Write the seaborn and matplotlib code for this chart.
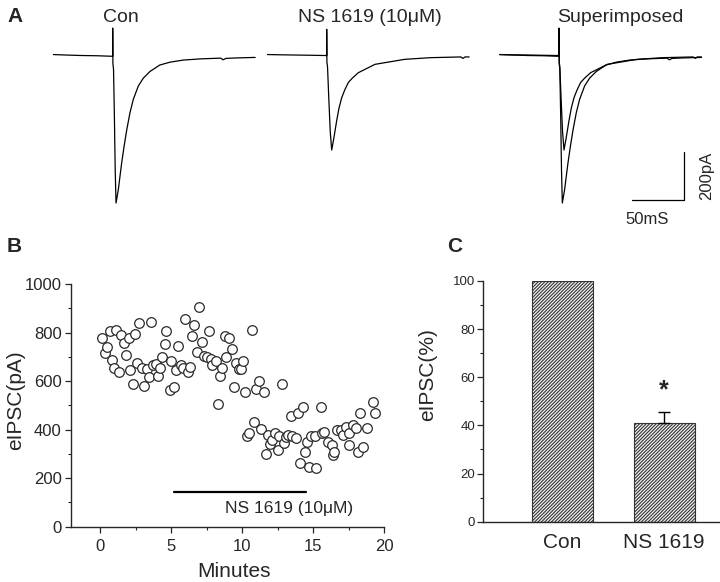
import numpy as np
import pandas as pd
import matplotlib
matplotlib.use("Agg")
import matplotlib.pyplot as plt
from matplotlib.ticker import MultipleLocator
import seaborn as sns

# ---------------- data ----------------
# Panel A: eIPSC traces (time ms relative to stimulus, current pA)
con_t = [-57, -45, -30, -15, -2, 0, 0, 0.2, 0.8, 1.6, 2.4, 3.2, 5.4, 7.0, 8.6, 10.9,
         13.4, 16.6, 19.8, 24.6, 29.4, 35.8, 45.2, 55, 68, 85, 104, 106, 109, 120, 137]
con_i = [2, 0, -2, -3, -5, -5, 113, -35, -60, -250, -480, -620, -564, -508, -453, -384,
         -316, -242, -186, -130, -97, -69, -42, -30, -21, -16, -13, -20, -14, -12, -10]
ns_t = [-57, -45, -30, -15, -2, 0, 0, 0.2, 0.8, 2.0, 3.4, 4.8, 6.8, 9.6, 11.8, 14.4,
        17.3, 20.8, 24.8, 30.4, 46.4, 75, 100, 129, 131, 133, 137]
ns_i = [2, 1, 0, -1, -2, -2, 108, -30, -50, -180, -320, -398, -350, -275, -223, -179,
        -147, -115, -96, -74, -39, -18, -11, -8, -14, -8, -8]
scale_ms = 50
scale_pA = 200

# Panel B: eIPSC amplitude over time
minutes = [0.12, 0.30, 0.47, 0.65, 0.81, 0.93, 1.12, 1.28, 1.47, 1.63, 1.79, 1.98, 2.09, 2.28,
           2.44, 2.60, 2.74, 2.90, 3.07, 3.26, 3.44, 3.54, 3.72, 3.90, 4.07, 4.19, 4.37, 4.54,
           4.65, 4.88, 5.00, 5.19, 5.35, 5.45, 5.70, 5.81, 5.98, 6.16, 6.33, 6.47, 6.63, 6.79,
           6.98, 7.14, 7.28, 7.51, 7.63, 7.79, 7.90, 8.14, 8.26, 8.42, 8.60, 8.79, 8.88, 9.07,
           9.26, 9.42, 9.54, 9.77, 9.88, 10.05, 10.19, 10.35, 10.50, 10.70, 10.86, 10.98, 11.16,
           11.35, 11.51, 11.70, 11.81, 11.98, 12.09, 12.28, 12.51, 12.60, 12.79, 12.98, 13.10,
           13.20, 13.44, 13.50, 13.77, 13.90, 14.07, 14.30, 14.42, 14.55, 14.70, 14.85, 15.15,
           15.23, 15.54, 15.60, 15.80, 16.05, 16.30, 16.40, 16.50, 16.70, 17.00, 17.10, 17.33,
           17.50, 17.56, 17.80, 18.03, 18.14, 18.33, 18.50, 18.80, 19.20, 19.40]
eipsc = [779, 717, 739, 806, 687, 652, 810, 637, 790, 755, 707, 776, 645, 589,
         794, 673, 838, 655, 578, 651, 616, 842, 666, 670, 621, 655, 699, 751,
         807, 563, 684, 577, 646, 744, 666, 652, 855, 639, 659, 784, 830, 721,
         906, 759, 702, 698, 808, 689, 667, 684, 507, 622, 652, 784, 700, 777,
         731, 575, 673, 648, 650, 684, 553, 374, 385, 812, 433, 568, 601,
         404, 553, 298, 378, 339, 357, 387, 318, 375, 588, 345, 370,
         378, 455, 374, 364, 470, 262, 492, 306, 350, 245, 372, 372,
         242, 492, 385, 391, 350, 337, 295, 309, 398, 398, 378, 412,
         337, 385, 419, 405, 309, 470, 330, 405, 515, 470]
drug_on, drug_off, drug_bar_y = 5.2, 14.5, 144

# Panel C: normalized eIPSC
conditions = ["Con", "NS 1619"]
means = [100, 41.2]
sems = [0, 4.2]

# ---------------- style ----------------
sns.set_style("ticks")
plt.rcParams["font.family"] = ["Liberation Sans", "DejaVu Sans"]
plt.rcParams["hatch.linewidth"] = 0.8

W, H = 720, 582
fig = plt.figure(figsize=(W / 100, H / 100), dpi=100)


def fx(px):
    return px / W


def fy(py):
    return 1 - py / H


# ---------------- Panel A ----------------
a_w, a_h = 223.6 / W, 186.2 / H
a_bottom = fy(210.2)
axes_A = []
for left_px in (45.1, 259.1, 491.4):
    ax = fig.add_axes([fx(left_px), a_bottom, a_w, a_h])
    ax.set_xlim(-65, 150)
    ax.set_ylim(-650, 130)
    ax.axis("off")
    axes_A.append(ax)

tr_con = pd.DataFrame({"t": con_t, "i": con_i})
tr_ns = pd.DataFrame({"t": ns_t, "i": ns_i})
line_kw = dict(x="t", y="i", sort=False, estimator=None, color="black", linewidth=0.9)
sns.lineplot(data=tr_con, ax=axes_A[0], **line_kw)
sns.lineplot(data=tr_ns, ax=axes_A[1], **line_kw)
sns.lineplot(data=tr_con, ax=axes_A[2], **line_kw)
sns.lineplot(data=tr_ns, ax=axes_A[2], **line_kw)

ax3 = axes_A[2]
sb_x1 = 120.5
sb_y0 = -607.6
ax3.plot([sb_x1 - scale_ms, sb_x1, sb_x1], [sb_y0, sb_y0, sb_y0 + scale_pA],
         color="black", linewidth=0.9, clip_on=False)
ax3.text(sb_x1 + 21, sb_y0 + scale_pA / 2, f"{scale_pA}pA", rotation=90,
         ha="center", va="center", fontsize=12)
ax3.text(sb_x1 - 36, sb_y0 - 83, f"{scale_ms}mS", ha="center", va="center", fontsize=12)

fig.text(fx(121), fy(18), "Con", ha="center", va="center", fontsize=14)
fig.text(fx(370), fy(18), "NS 1619 (10\u03bcM)", ha="center", va="center", fontsize=14)
fig.text(fx(620), fy(18), "Superimposed", ha="center", va="center", fontsize=14)

fig.text(fx(7), fy(17), "A", ha="left", va="center", fontsize=15, fontweight="bold")
fig.text(fx(7), fy(246), "B", ha="left", va="center", fontsize=15, fontweight="bold")
fig.text(fx(447), fy(246), "C", ha="left", va="center", fontsize=15, fontweight="bold")

# ---------------- Panel B ----------------
axB = fig.add_axes([fx(70.7), fy(526.7), (384 - 70.7) / W, (526.7 - 284) / H])
dfB = pd.DataFrame({"Minutes": minutes, "eIPSC": eipsc})
sns.scatterplot(data=dfB, x="Minutes", y="eIPSC", ax=axB, s=48, color="white",
                edgecolor="#2a2a2a", linewidth=0.9, zorder=3)
axB.plot([drug_on, drug_off], [drug_bar_y, drug_bar_y], color="black", linewidth=1.6)
axB.text(13.27, 76, "NS 1619 (10\u03bcM)", ha="center", va="center", fontsize=12.5)
axB.set_xlim(-2.1, 20)
axB.set_ylim(0, 1000)
axB.xaxis.set_major_locator(MultipleLocator(5))
axB.xaxis.set_minor_locator(MultipleLocator(2.5))
axB.yaxis.set_major_locator(MultipleLocator(200))
axB.yaxis.set_minor_locator(MultipleLocator(100))
axB.set_xlabel("Minutes", fontsize=15)
axB.set_ylabel("eIPSC(pA)", fontsize=15)
axB.xaxis.label.set_verticalalignment("baseline")
axB.xaxis.set_label_coords(0.52, (526.7 - 577) / (526.7 - 284))
axB.yaxis.set_label_coords((25.5 - 70.7) / (384 - 70.7), 0.522)
axB.tick_params(axis="both", which="major", labelsize=12, length=4, width=0.9, pad=2.5,
                direction="out")
axB.tick_params(axis="both", which="minor", length=2.5, width=0.8, direction="out")
axB.tick_params(axis="x", which="major", pad=5)
for s in ("left", "bottom"):
    axB.spines[s].set_linewidth(1.0)
sns.despine(ax=axB)

# ---------------- Panel C ----------------
axC = fig.add_axes([fx(483.3), fy(521.7), (720 - 483.3) / W, (521.7 - 281) / H])
dfC = pd.DataFrame({"cond": conditions, "val": means})
sns.barplot(data=dfC, x="cond", y="val", ax=axC, color="white", edgecolor="black",
            linewidth=0.8, width=0.6, errorbar=None, saturation=1)
for p in axC.patches:
    p.set_hatch("//////////")
    p.set_facecolor("#f2f2f2")
    p.set_edgecolor("#333333")
ns_idx = conditions.index("NS 1619")
axC.errorbar([ns_idx], [means[ns_idx]], yerr=[[0], [sems[ns_idx]]], fmt="none",
             ecolor="black", elinewidth=1.0, capsize=4, capthick=1.0)
axC.text(ns_idx, 54.5, "*", ha="center", va="center", fontsize=18, fontweight="bold")
axC.set_xlim(-0.782, 1.55)
axC.set_ylim(0, 100)
axC.yaxis.set_major_locator(MultipleLocator(20))
axC.yaxis.set_minor_locator(MultipleLocator(10))
axC.set_xlabel("")
axC.set_ylabel("eIPSC(%)", fontsize=15)
axC.yaxis.set_label_coords((437.5 - 483.3) / (720 - 483.3), 0.61)
axC.tick_params(axis="y", which="major", labelsize=9.5, length=4, width=0.9, pad=2,
                direction="out")
axC.tick_params(axis="y", which="minor", length=2.5, width=0.8, direction="out")
axC.tick_params(axis="x", which="major", labelsize=15, length=0, pad=8)
for s in ("left", "bottom"):
    axC.spines[s].set_linewidth(1.0)
sns.despine(ax=axC)

fig.savefig("out.png", dpi=100)
